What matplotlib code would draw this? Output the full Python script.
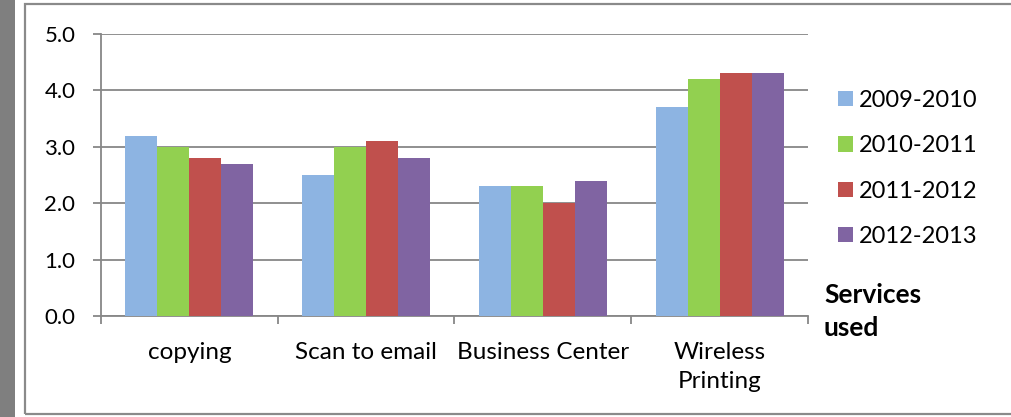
import matplotlib.pyplot as plt
import numpy as np
from matplotlib.patches import Rectangle

# data
categories = ["copying", "Scan to email", "Business Center", "Wireless\nPrinting"]
years = ["2009-2010", "2010-2011", "2011-2012", "2012-2013"]
v2009 = [3.2, 2.5, 2.3, 3.7]
v2010 = [3.0, 3.0, 2.3, 4.2]
v2011 = [2.8, 3.1, 2.0, 4.3]
v2012 = [2.7, 2.8, 2.4, 4.3]
colors = ["#8DB4E2", "#92D050", "#C0504D", "#8064A2"]

plt.rcParams["font.family"] = ["Lato", "DejaVu Sans"]

W, H = 1012, 417
fig = plt.figure(figsize=(W / 100, H / 100), dpi=100)

# gray strip on the left and the chart border
fig.patches.append(Rectangle((0, 0), 15 / W, 1, transform=fig.transFigure,
                             facecolor="#7f7f7f", edgecolor="none", zorder=0))
fig.patches.append(Rectangle((25 / W, 3 / H), 1.2, 410 / H, transform=fig.transFigure,
                             facecolor="none", edgecolor="#8a8a8a", lw=1.6, zorder=1))

ax = fig.add_axes([101 / W, 1 - 316 / H, (808 - 101) / W, (316 - 34) / H])

x = np.arange(len(categories))
w = 0.181
series = [v2009, v2010, v2011, v2012]
for i, (vals, c, lab) in enumerate(zip(series, colors, years)):
    ax.bar(x + (i - 1.5) * w, vals, width=w, color=c, label=lab, zorder=3)

ax.set_xlim(-0.5, len(categories) - 0.5)
ax.set_ylim(0, 5)
ax.set_yticks(np.arange(0, 5.1, 1.0))
ax.set_yticklabels([f"{v:.1f}" for v in np.arange(0, 5.1, 1.0)])
ax.yaxis.grid(True, color="#878787", lw=1.3, zorder=0)
ax.set_axisbelow(True)

ax.set_xticks(x)
ax.set_xticklabels(categories, linespacing=1.43)
ax.set_xticks(np.arange(-0.5, len(categories)), minor=True)
ax.tick_params(axis="x", which="major", length=0, pad=19, labelsize=17.5)
ax.tick_params(axis="x", which="minor", length=6, width=1.3, color="#878787", direction="out")
ax.tick_params(axis="y", length=6, width=1.3, color="#878787", pad=12.5, labelsize=16)

for s in ["top", "right"]:
    ax.spines[s].set_visible(False)
for s in ["left", "bottom"]:
    ax.spines[s].set_color("#878787")
    ax.spines[s].set_linewidth(1.3)

ax.legend(loc="center left", bbox_to_anchor=(838 / W, 1 - 168.5 / H),
          bbox_transform=fig.transFigure, frameon=False, fontsize=17,
          borderaxespad=0, borderpad=0,
          handlelength=0.63, handleheight=0.63, handletextpad=0.25,
          labelspacing=1.03)

fig.text(824 / W, 1 - 311.5 / H, "Services\nused", fontsize=19, fontweight="bold",
         va="center", ha="left", linespacing=1.47)

fig.savefig("out.png", dpi=100)
